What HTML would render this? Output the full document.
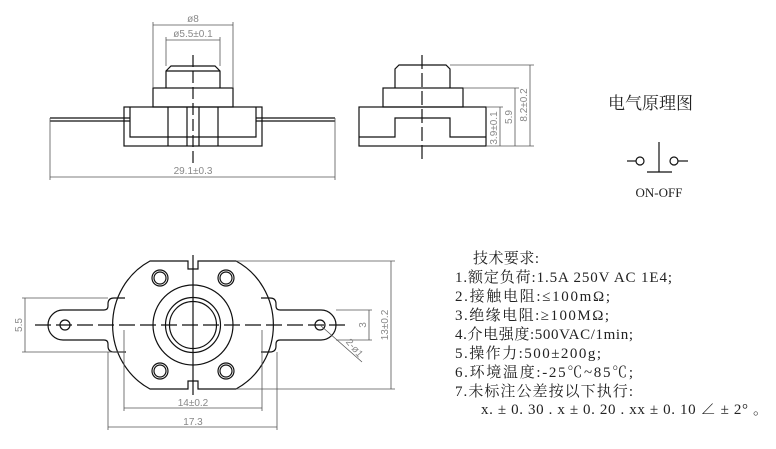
<!DOCTYPE html>
<html><head><meta charset="utf-8"><style>
html,body{margin:0;padding:0;background:#fff;}
svg{display:block;}
.t{font-family:"Liberation Serif","Noto Serif CJK SC",serif;fill:#222;}
.d{font-family:"Liberation Sans",sans-serif;fill:#888;font-size:10px;}
</style></head><body>
<svg width="776" height="449" viewBox="0 0 776 449" xmlns="http://www.w3.org/2000/svg">
<g fill="none" stroke="#111" stroke-width="1.2">
<path d="M166,88 V71 L171,66 H215 L220,71 V88"/>
<line x1="166" y1="71" x2="220" y2="71"/>
<rect x="153" y="88" width="80" height="19"/>
<rect x="124" y="107" width="138" height="39"/>
<path d="M130,107 V137 H256 V107"/>
<path d="M50,118 H130 M50,121 H130 M256,118 H335 M256,121 H335"/>
<line x1="168" y1="107" x2="168" y2="146"/><line x1="187" y1="107" x2="187" y2="146"/>
<line x1="199" y1="107" x2="199" y2="146"/><line x1="218" y1="107" x2="218" y2="146"/>
<line x1="193" y1="55" x2="193" y2="165" stroke-dasharray="12,4"/>
</g>
<g fill="none" stroke="#555" stroke-width="0.8">
<line x1="153" y1="22" x2="153" y2="88"/><line x1="233" y1="22" x2="233" y2="88"/>
<line x1="153" y1="25" x2="233" y2="25"/>
<line x1="166" y1="37" x2="166" y2="66"/><line x1="220" y1="37" x2="220" y2="66"/>
<line x1="166" y1="40" x2="220" y2="40"/>
<line x1="50" y1="118" x2="50" y2="180"/><line x1="335" y1="118" x2="335" y2="180"/>
<line x1="50" y1="177" x2="335" y2="177"/>
</g>
<text class="d" x="193" y="22" text-anchor="middle">ø8</text>
<text class="d" x="193" y="37" text-anchor="middle">ø5.5±0.1</text>
<text class="d" x="193" y="174" text-anchor="middle">29.1±0.3</text>
<g fill="none" stroke="#111" stroke-width="1.2">
<path d="M395,88 V69 L399,65 H446 L450,69 V88"/>
<rect x="383" y="88" width="80" height="19"/>
<rect x="359" y="107" width="127" height="39"/>
<path d="M359,137 H395 V118 H450 V137 H486"/>
<line x1="422" y1="55" x2="422" y2="162" stroke-dasharray="14,4"/>
</g>
<g fill="none" stroke="#555" stroke-width="0.8">
<path d="M450,65 H534 M463,88 H519 M486,107 H503 M486,146 H534"/>
<line x1="500" y1="107" x2="500" y2="146"/><line x1="515" y1="88" x2="515" y2="146"/><line x1="530" y1="65" x2="530" y2="146"/>
</g>
<text class="d" transform="translate(497,128) rotate(-90)" text-anchor="middle">3.9±0.1</text>
<text class="d" transform="translate(512,117) rotate(-90)" text-anchor="middle">5.9</text>
<text class="d" transform="translate(527,105) rotate(-90)" text-anchor="middle">8.2±0.2</text>
<text class="t" x="608" y="109" font-size="17">电气原理图</text>
<g fill="none" stroke="#111" stroke-width="1.2">
<line x1="627" y1="161" x2="636" y2="161"/><circle cx="640" cy="161" r="4"/>
<line x1="659" y1="142" x2="659" y2="172"/><line x1="647" y1="172" x2="672" y2="172"/>
<circle cx="674" cy="161" r="4"/><line x1="678" y1="161" x2="688" y2="161"/>
</g>
<text class="t" x="659" y="197" font-size="13" text-anchor="middle">ON-OFF</text>
<g fill="none" stroke="#111" stroke-width="1.2">
<path d="M188,261 H150 A69,72 0 0 0 150,389 H188 V381 H198 V389 H236 A69,72 0 0 0 236,261 H198 V269 H188 Z"/>
<path d="M125,298 H114 Q108,298 108,304 V306 Q108,310 104,310 H63 A15,15 0 0 0 63,340 H104 Q108,340 108,344 V346 Q108,352 114,352 H126"/>
<path d="M261,298 H270 Q276,298 276,304 V306 Q276,310 280,310 H321 A15,15 0 0 1 321,340 H280 Q276,340 276,344 V346 Q276,352 270,352 H261"/>
<circle cx="65" cy="325" r="5"/><circle cx="320" cy="325" r="5"/>
<circle cx="193" cy="325" r="40"/><circle cx="193" cy="325" r="27.5"/><circle cx="193" cy="325" r="23.5"/>
<circle cx="160" cy="278" r="8"/><circle cx="160" cy="278" r="6"/>
<circle cx="226" cy="278" r="8"/><circle cx="226" cy="278" r="6"/>
<circle cx="160" cy="371" r="8"/><circle cx="160" cy="371" r="6"/>
<circle cx="226" cy="371" r="8"/><circle cx="226" cy="371" r="6"/>
<line x1="35" y1="325" x2="350" y2="325" stroke-dasharray="16,5"/>
<line x1="193" y1="255" x2="193" y2="395"/>
</g>
<g fill="none" stroke="#555" stroke-width="0.8">
<path d="M22,298 H108 M22,352 H125 M25,298 V352"/>
<path d="M336,310 H372 M336,340 H372 M369,310 V340"/>
<path d="M236,261 H395 M236,389 H395 M391,261 V389"/>
<path d="M124,330 V411 M262,330 V411 M124,408 H262"/>
<path d="M108,352 V430 M277,352 V430 M108,427 H277"/>
<line x1="320" y1="325" x2="362" y2="362"/>
</g>
<text class="d" transform="translate(22,325) rotate(-90)" text-anchor="middle">5.5</text>
<text class="d" transform="translate(366,325) rotate(-90)" text-anchor="middle">3</text>
<text class="d" transform="translate(388,325) rotate(-90)" text-anchor="middle">13±0.2</text>
<text class="d" transform="translate(352,350) rotate(50)" text-anchor="middle">2-ø1</text>
<text class="d" x="193" y="406" text-anchor="middle">14±0.2</text>
<text class="d" x="193" y="425" text-anchor="middle">17.3</text>
<g class="t" font-size="15">
<text x="473" y="263" textLength="66" lengthAdjust="spacing">技术要求:</text>
<text x="455" y="282" textLength="217" lengthAdjust="spacing">1.额定负荷:1.5A 250V AC 1E4;</text>
<text x="455" y="301" textLength="155" lengthAdjust="spacing">2.接触电阻:≤100mΩ;</text>
<text x="455" y="320" textLength="154" lengthAdjust="spacing">3.绝缘电阻:≥100MΩ;</text>
<text x="455" y="339" textLength="178" lengthAdjust="spacing">4.介电强度:500VAC/1min;</text>
<text x="455" y="358" textLength="146" lengthAdjust="spacing">5.操作力:500±200g;</text>
<text x="455" y="377" textLength="178" lengthAdjust="spacing">6.环境温度:-25℃~85℃;</text>
<text x="455" y="396" textLength="178" lengthAdjust="spacing">7.未标注公差按以下执行:</text>
<text x="481" y="414" textLength="287" lengthAdjust="spacing">x. ± 0. 30  . x ± 0. 20  . xx ± 0. 10  ∠ ± 2°  。</text>
</g>
</svg>
</body></html>
